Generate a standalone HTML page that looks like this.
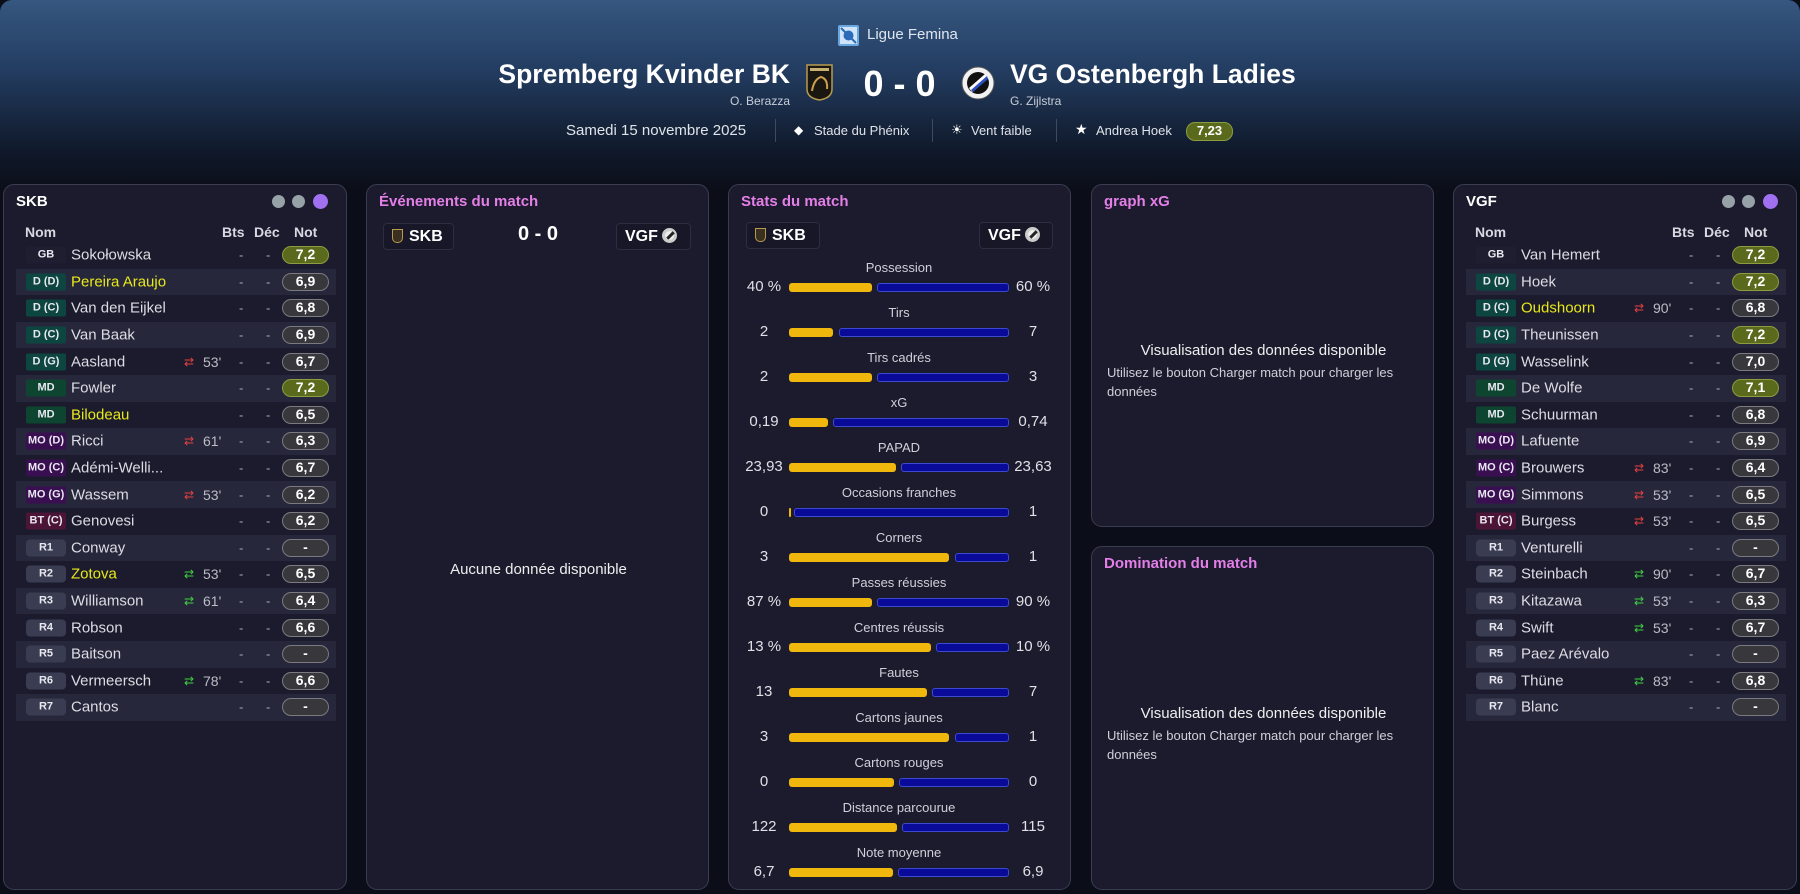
<!DOCTYPE html>
<html><head><meta charset="utf-8">
<style>
*{margin:0;padding:0;box-sizing:border-box}
body{width:1800px;height:894px;background:#0b0e18;font-family:"Liberation Sans",sans-serif;color:#e6e6ee;position:relative;overflow:hidden}
.hdr{position:absolute;left:0;top:0;width:1800px;height:190px;background:linear-gradient(180deg,#36577f 0%,#243e63 35%,#101a2c 78%,#0b0e18 100%);border-radius:12px 12px 0 0}
.a{position:absolute;white-space:nowrap}
.panel{position:absolute;background:#1b1b2d;border:1.5px solid #3a3c52;border-radius:11px}
.ttl{position:absolute;left:12px;top:8px;font-family:"Liberation Sans Narrow","Liberation Sans",sans-serif;font-weight:bold;font-size:15px;color:#fff}
.pink{color:#e57fe8}
.dot{position:absolute;top:10px;width:13px;height:13px;border-radius:50%;background:#97a1a8}
.rows{position:absolute;left:12px;top:57px;width:320px}
.r{position:relative;height:26.6px;font-size:15px}
.r.s{background:#26273b}
.r>*{position:absolute;top:50%;transform:translateY(-50%)}
.p{left:10px;width:40px;height:17px;font-size:11px;font-weight:bold;text-align:center;line-height:17px;color:#e8e8f0;border-radius:2px}
.gb{background:#1e1e30}.d{background:#0d4640}.md{background:#0e4530}.mo{background:#3a0f52}.bt{background:#4c1538}.rs{background:#3a3c52;border-radius:4px}
.n{left:55px;color:#dcdce4}
.y{color:#e8e81a}
.sw{left:168px;font-size:12px;letter-spacing:-1px}
.mn{left:187px;color:#bcbcc6;font-size:14px}
.b1{left:223px;color:#aaa;font-size:13px}
.b2{left:250px;color:#aaa;font-size:13px}
.rt{left:266px;width:47px;height:18px;border-radius:9px;background:#38383c;border:1.5px solid #7a7a80;text-align:center;font-weight:bold;font-size:14px;line-height:15px;color:#fff}
.rt.g{background:#5a6a1c;border-color:#8c9c40}
.th{position:absolute;top:39px;font-size:14px;font-weight:bold;color:#d8d8e2}
.box{position:absolute;height:27px;background:#171727;border:1px solid #2c2c42;border-radius:4px;font-weight:bold;font-size:16px;color:#fff;line-height:25px}
.lbl{position:absolute;width:340px;text-align:center;font-size:13px;color:#d0d0da}
.v{position:absolute;width:60px;text-align:center;font-size:15px;color:#e0e0e8}
.yb{position:absolute;height:9px;background:#f0b70d;border-radius:3px}
.bb{position:absolute;height:9px;background:#0a0a98;border:1px solid #3c4ad0;border-radius:3px}
.ms{font-size:15px;color:#eee}
.ms2{font-size:13px;color:#d0d0da;line-height:19px}
</style></head><body>
<div class="hdr"></div>
<svg class="a" style="left:838px;top:25px" width="21" height="21" viewBox="0 0 21 21"><rect width="21" height="21" rx="2" fill="#6aa7e0"/><rect x="2" y="2" width="17" height="17" fill="#cfe4f8"/><circle cx="10.5" cy="10.5" r="5" fill="#2a6ab8"/><path d="M3 3 L18 18" stroke="#2a6ab8" stroke-width="2"/></svg>
<div class="a" style="left:867px;top:26px;font-size:15px;color:#e0e6f0">Ligue Femina</div>
<div class="a" style="left:495px;top:59px;width:295px;text-align:right;font-size:26.5px;font-weight:bold;color:#fff">Spremberg Kvinder BK</div>
<div class="a" style="left:690px;top:94px;width:100px;text-align:right;font-size:12px;color:#c8cdd8">O. Berazza</div>
<svg class="a" style="left:806px;top:63px" width="27" height="38" viewBox="0 0 27 38"><path d="M1 2 H26 V26 Q26 35 13.5 37 Q1 35 1 26 Z" fill="#1a1610" stroke="#b89a50" stroke-width="1.5"/><rect x="4" y="5" width="19" height="3" fill="#c8b070"/><path d="M6 28 Q8 16 15 14 Q22 16 21 26" stroke="#c8a050" stroke-width="2" fill="none"/></svg>
<div class="a" style="left:852px;top:63px;width:95px;text-align:center;font-size:36px;font-weight:bold;color:#fff">0 - 0</div>
<svg class="a" style="left:961px;top:66px" width="34" height="34" viewBox="0 0 34 34"><circle cx="17" cy="17" r="16" fill="#f2f2f2" stroke="#555" stroke-width="1"/><circle cx="17" cy="17" r="11" fill="#111"/><path d="M8 22 L24 8 L27 12 L11 26 Z" fill="#fff"/><path d="M10 24 L26 10 L27 13 L12 26 Z" fill="#2a50c0"/></svg>
<div class="a" style="left:1010px;top:59px;font-size:26.5px;font-weight:bold;color:#fff">VG Ostenbergh Ladies</div>
<div class="a" style="left:1010px;top:94px;font-size:12px;color:#c8cdd8">G. Zijlstra</div>
<div class="a" style="left:566px;top:122px;font-size:15px;color:#dfe3ea">Samedi 15 novembre 2025</div>
<div class="a" style="left:775px;top:119px;width:1px;height:23px;background:#3e4a5e"></div>
<div class="a" style="left:794px;top:123px;font-size:12px;color:#fff">◆</div>
<div class="a" style="left:814px;top:123px;font-size:13px;color:#dfe3ea">Stade du Phénix</div>
<div class="a" style="left:932px;top:119px;width:1px;height:23px;background:#3e4a5e"></div>
<div class="a" style="left:951px;top:122px;font-size:13px;color:#fff">☀</div>
<div class="a" style="left:971px;top:123px;font-size:13px;color:#dfe3ea">Vent faible</div>
<div class="a" style="left:1056px;top:119px;width:1px;height:23px;background:#3e4a5e"></div>
<div class="a" style="left:1075px;top:121px;font-size:14px;color:#fff">★</div>
<div class="a" style="left:1096px;top:123px;font-size:13px;color:#dfe3ea">Andrea Hoek</div>
<div class="a" style="left:1186px;top:122px;width:47px;height:19px;border-radius:9px;background:#5a6a1c;border:1.5px solid #8c9c40;text-align:center;font-size:13px;font-weight:bold;line-height:16px;color:#fff">7,23</div>

<div class="panel" style="left:3px;top:184px;width:344px;height:706px">
<div class="ttl">SKB</div>
<div class="dot" style="left:268px"></div><div class="dot" style="left:288px"></div><div class="dot" style="left:309px;background:#a070f0;width:15px;height:15px;top:9px"></div>
<div class="th" style="left:21px">Nom</div><div class="th" style="left:218px">Bts</div><div class="th" style="left:250px">Déc</div><div class="th" style="left:290px">Not</div>
<div class="rows">
<div class="r"><b class="p gb">GB</b><span class="n">Sokołowska</span><span class="b1">-</span><span class="b2">-</span><span class="rt g">7,2</span></div>
<div class="r s"><b class="p d">D (D)</b><span class="n y">Pereira Araujo</span><span class="b1">-</span><span class="b2">-</span><span class="rt">6,9</span></div>
<div class="r"><b class="p d">D (C)</b><span class="n">Van den Eijkel</span><span class="b1">-</span><span class="b2">-</span><span class="rt">6,8</span></div>
<div class="r s"><b class="p d">D (C)</b><span class="n">Van Baak</span><span class="b1">-</span><span class="b2">-</span><span class="rt">6,9</span></div>
<div class="r"><b class="p d">D (G)</b><span class="n">Aasland</span><span class="sw" style="color:#e84040">⇄</span><span class="mn">53'</span><span class="b1">-</span><span class="b2">-</span><span class="rt">6,7</span></div>
<div class="r s"><b class="p md">MD</b><span class="n">Fowler</span><span class="b1">-</span><span class="b2">-</span><span class="rt g">7,2</span></div>
<div class="r"><b class="p md">MD</b><span class="n y">Bilodeau</span><span class="b1">-</span><span class="b2">-</span><span class="rt">6,5</span></div>
<div class="r s"><b class="p mo">MO (D)</b><span class="n">Ricci</span><span class="sw" style="color:#e84040">⇄</span><span class="mn">61'</span><span class="b1">-</span><span class="b2">-</span><span class="rt">6,3</span></div>
<div class="r"><b class="p mo">MO (C)</b><span class="n">Adémi-Welli...</span><span class="b1">-</span><span class="b2">-</span><span class="rt">6,7</span></div>
<div class="r s"><b class="p mo">MO (G)</b><span class="n">Wassem</span><span class="sw" style="color:#e84040">⇄</span><span class="mn">53'</span><span class="b1">-</span><span class="b2">-</span><span class="rt">6,2</span></div>
<div class="r"><b class="p bt">BT (C)</b><span class="n">Genovesi</span><span class="b1">-</span><span class="b2">-</span><span class="rt">6,2</span></div>
<div class="r s"><b class="p rs">R1</b><span class="n">Conway</span><span class="b1">-</span><span class="b2">-</span><span class="rt">-</span></div>
<div class="r"><b class="p rs">R2</b><span class="n y">Zotova</span><span class="sw" style="color:#40d040">⇄</span><span class="mn">53'</span><span class="b1">-</span><span class="b2">-</span><span class="rt">6,5</span></div>
<div class="r s"><b class="p rs">R3</b><span class="n">Williamson</span><span class="sw" style="color:#40d040">⇄</span><span class="mn">61'</span><span class="b1">-</span><span class="b2">-</span><span class="rt">6,4</span></div>
<div class="r"><b class="p rs">R4</b><span class="n">Robson</span><span class="b1">-</span><span class="b2">-</span><span class="rt">6,6</span></div>
<div class="r s"><b class="p rs">R5</b><span class="n">Baitson</span><span class="b1">-</span><span class="b2">-</span><span class="rt">-</span></div>
<div class="r"><b class="p rs">R6</b><span class="n">Vermeersch</span><span class="sw" style="color:#40d040">⇄</span><span class="mn">78'</span><span class="b1">-</span><span class="b2">-</span><span class="rt">6,6</span></div>
<div class="r s"><b class="p rs">R7</b><span class="n">Cantos</span><span class="b1">-</span><span class="b2">-</span><span class="rt">-</span></div>
</div></div>

<div class="panel" style="left:366px;top:184px;width:343px;height:706px">
<div class="ttl pink">Événements du match</div>
<div class="box" style="left:16px;top:38px;width:71px;padding-left:8px"><span style="display:inline-block;width:11px;height:14px;background:#3a3020;border:1px solid #b89a50;border-radius:0 0 5px 5px;vertical-align:-2px;margin-right:6px"></span>SKB</div>
<div class="a" style="left:121px;top:38px;width:100px;text-align:center;font-size:20px;font-weight:bold;color:#fff">0 - 0</div>
<div class="box" style="left:249px;top:38px;width:75px;padding-left:8px">VGF <span style="display:inline-block;width:15px;height:15px;border-radius:50%;background:#eee;border:3px solid #ccc;vertical-align:-2px;position:relative"><span style="position:absolute;left:1px;top:3px;width:9px;height:3px;background:#222;transform:rotate(-45deg)"></span></span></div>
<div class="a" style="left:0;top:376px;width:343px;text-align:center;font-size:15px;color:#eee">Aucune donnée disponible</div>
</div>

<div class="panel" style="left:728px;top:184px;width:343px;height:706px">
<div class="ttl pink">Stats du match</div>
<div class="box" style="left:17px;top:37px;width:74px;padding-left:8px"><span style="display:inline-block;width:11px;height:14px;background:#3a3020;border:1px solid #b89a50;border-radius:0 0 5px 5px;vertical-align:-2px;margin-right:6px"></span>SKB</div>
<div class="box" style="left:250px;top:37px;width:74px;padding-left:8px">VGF <span style="display:inline-block;width:15px;height:15px;border-radius:50%;background:#eee;border:3px solid #ccc;vertical-align:-2px;position:relative"><span style="position:absolute;left:1px;top:3px;width:9px;height:3px;background:#222;transform:rotate(-45deg)"></span></span></div>
</div>
<div class="a" style="left:0;top:0">
<div class="lbl" style="left:729px;top:260px">Possession</div><div class="v" style="left:734px;top:278px">40 %</div><div class="yb" style="left:789px;top:283px;width:83px"></div><div class="bb" style="left:877px;top:283px;width:132px"></div><div class="v" style="left:1003px;top:278px">60 %</div>
<div class="lbl" style="left:729px;top:305px">Tirs</div><div class="v" style="left:734px;top:323px">2</div><div class="yb" style="left:789px;top:328px;width:44px"></div><div class="bb" style="left:839px;top:328px;width:170px"></div><div class="v" style="left:1003px;top:323px">7</div>
<div class="lbl" style="left:729px;top:350px">Tirs cadrés</div><div class="v" style="left:734px;top:368px">2</div><div class="yb" style="left:789px;top:373px;width:83px"></div><div class="bb" style="left:877px;top:373px;width:132px"></div><div class="v" style="left:1003px;top:368px">3</div>
<div class="lbl" style="left:729px;top:395px">xG</div><div class="v" style="left:734px;top:413px">0,19</div><div class="yb" style="left:789px;top:418px;width:39px"></div><div class="bb" style="left:833px;top:418px;width:176px"></div><div class="v" style="left:1003px;top:413px">0,74</div>
<div class="lbl" style="left:729px;top:440px">PAPAD</div><div class="v" style="left:734px;top:458px">23,93</div><div class="yb" style="left:789px;top:463px;width:107px"></div><div class="bb" style="left:901px;top:463px;width:108px"></div><div class="v" style="left:1003px;top:458px">23,63</div>
<div class="lbl" style="left:729px;top:485px">Occasions franches</div><div class="v" style="left:734px;top:503px">0</div><div class="yb" style="left:789px;top:508px;width:2px"></div><div class="bb" style="left:794px;top:508px;width:215px"></div><div class="v" style="left:1003px;top:503px">1</div>
<div class="lbl" style="left:729px;top:530px">Corners</div><div class="v" style="left:734px;top:548px">3</div><div class="yb" style="left:789px;top:553px;width:160px"></div><div class="bb" style="left:955px;top:553px;width:54px"></div><div class="v" style="left:1003px;top:548px">1</div>
<div class="lbl" style="left:729px;top:575px">Passes réussies</div><div class="v" style="left:734px;top:593px">87 %</div><div class="yb" style="left:789px;top:598px;width:83px"></div><div class="bb" style="left:877px;top:598px;width:132px"></div><div class="v" style="left:1003px;top:593px">90 %</div>
<div class="lbl" style="left:729px;top:620px">Centres réussis</div><div class="v" style="left:734px;top:638px">13 %</div><div class="yb" style="left:789px;top:643px;width:142px"></div><div class="bb" style="left:936px;top:643px;width:73px"></div><div class="v" style="left:1003px;top:638px">10 %</div>
<div class="lbl" style="left:729px;top:665px">Fautes</div><div class="v" style="left:734px;top:683px">13</div><div class="yb" style="left:789px;top:688px;width:138px"></div><div class="bb" style="left:932px;top:688px;width:77px"></div><div class="v" style="left:1003px;top:683px">7</div>
<div class="lbl" style="left:729px;top:710px">Cartons jaunes</div><div class="v" style="left:734px;top:728px">3</div><div class="yb" style="left:789px;top:733px;width:160px"></div><div class="bb" style="left:955px;top:733px;width:54px"></div><div class="v" style="left:1003px;top:728px">1</div>
<div class="lbl" style="left:729px;top:755px">Cartons rouges</div><div class="v" style="left:734px;top:773px">0</div><div class="yb" style="left:789px;top:778px;width:105px"></div><div class="bb" style="left:899px;top:778px;width:110px"></div><div class="v" style="left:1003px;top:773px">0</div>
<div class="lbl" style="left:729px;top:800px">Distance parcourue</div><div class="v" style="left:734px;top:818px">122</div><div class="yb" style="left:789px;top:823px;width:108px"></div><div class="bb" style="left:902px;top:823px;width:107px"></div><div class="v" style="left:1003px;top:818px">115</div>
<div class="lbl" style="left:729px;top:845px">Note moyenne</div><div class="v" style="left:734px;top:863px">6,7</div><div class="yb" style="left:789px;top:868px;width:104px"></div><div class="bb" style="left:898px;top:868px;width:111px"></div><div class="v" style="left:1003px;top:863px">6,9</div>
</div>

<div class="panel" style="left:1091px;top:184px;width:343px;height:343px">
<div class="ttl pink">graph xG</div>
<div class="a ms" style="left:0;width:343px;text-align:center;top:157px">Visualisation des données disponible</div>
<div class="a ms2" style="left:15px;top:178px;white-space:normal;width:305px">Utilisez le bouton Charger match pour charger les données</div>
</div>
<div class="panel" style="left:1091px;top:546px;width:343px;height:344px">
<div class="ttl pink">Domination du match</div>
<div class="a ms" style="left:0;width:343px;text-align:center;top:158px">Visualisation des données disponible</div>
<div class="a ms2" style="left:15px;top:179px;white-space:normal;width:305px">Utilisez le bouton Charger match pour charger les données</div>
</div>

<div class="panel" style="left:1453px;top:184px;width:344px;height:706px">
<div class="ttl">VGF</div>
<div class="dot" style="left:268px"></div><div class="dot" style="left:288px"></div><div class="dot" style="left:309px;background:#a070f0;width:15px;height:15px;top:9px"></div>
<div class="th" style="left:21px">Nom</div><div class="th" style="left:218px">Bts</div><div class="th" style="left:250px">Déc</div><div class="th" style="left:290px">Not</div>
<div class="rows">
<div class="r"><b class="p gb">GB</b><span class="n">Van Hemert</span><span class="b1">-</span><span class="b2">-</span><span class="rt g">7,2</span></div>
<div class="r s"><b class="p d">D (D)</b><span class="n">Hoek</span><span class="b1">-</span><span class="b2">-</span><span class="rt g">7,2</span></div>
<div class="r"><b class="p d">D (C)</b><span class="n y">Oudshoorn</span><span class="sw" style="color:#e84040">⇄</span><span class="mn">90'</span><span class="b1">-</span><span class="b2">-</span><span class="rt">6,8</span></div>
<div class="r s"><b class="p d">D (C)</b><span class="n">Theunissen</span><span class="b1">-</span><span class="b2">-</span><span class="rt g">7,2</span></div>
<div class="r"><b class="p d">D (G)</b><span class="n">Wasselink</span><span class="b1">-</span><span class="b2">-</span><span class="rt">7,0</span></div>
<div class="r s"><b class="p md">MD</b><span class="n">De Wolfe</span><span class="b1">-</span><span class="b2">-</span><span class="rt g">7,1</span></div>
<div class="r"><b class="p md">MD</b><span class="n">Schuurman</span><span class="b1">-</span><span class="b2">-</span><span class="rt">6,8</span></div>
<div class="r s"><b class="p mo">MO (D)</b><span class="n">Lafuente</span><span class="b1">-</span><span class="b2">-</span><span class="rt">6,9</span></div>
<div class="r"><b class="p mo">MO (C)</b><span class="n">Brouwers</span><span class="sw" style="color:#e84040">⇄</span><span class="mn">83'</span><span class="b1">-</span><span class="b2">-</span><span class="rt">6,4</span></div>
<div class="r s"><b class="p mo">MO (G)</b><span class="n">Simmons</span><span class="sw" style="color:#e84040">⇄</span><span class="mn">53'</span><span class="b1">-</span><span class="b2">-</span><span class="rt">6,5</span></div>
<div class="r"><b class="p bt">BT (C)</b><span class="n">Burgess</span><span class="sw" style="color:#e84040">⇄</span><span class="mn">53'</span><span class="b1">-</span><span class="b2">-</span><span class="rt">6,5</span></div>
<div class="r s"><b class="p rs">R1</b><span class="n">Venturelli</span><span class="b1">-</span><span class="b2">-</span><span class="rt">-</span></div>
<div class="r"><b class="p rs">R2</b><span class="n">Steinbach</span><span class="sw" style="color:#40d040">⇄</span><span class="mn">90'</span><span class="b1">-</span><span class="b2">-</span><span class="rt">6,7</span></div>
<div class="r s"><b class="p rs">R3</b><span class="n">Kitazawa</span><span class="sw" style="color:#40d040">⇄</span><span class="mn">53'</span><span class="b1">-</span><span class="b2">-</span><span class="rt">6,3</span></div>
<div class="r"><b class="p rs">R4</b><span class="n">Swift</span><span class="sw" style="color:#40d040">⇄</span><span class="mn">53'</span><span class="b1">-</span><span class="b2">-</span><span class="rt">6,7</span></div>
<div class="r s"><b class="p rs">R5</b><span class="n">Paez Arévalo</span><span class="b1">-</span><span class="b2">-</span><span class="rt">-</span></div>
<div class="r"><b class="p rs">R6</b><span class="n">Thüne</span><span class="sw" style="color:#40d040">⇄</span><span class="mn">83'</span><span class="b1">-</span><span class="b2">-</span><span class="rt">6,8</span></div>
<div class="r s"><b class="p rs">R7</b><span class="n">Blanc</span><span class="b1">-</span><span class="b2">-</span><span class="rt">-</span></div>
</div></div>
</body></html>
